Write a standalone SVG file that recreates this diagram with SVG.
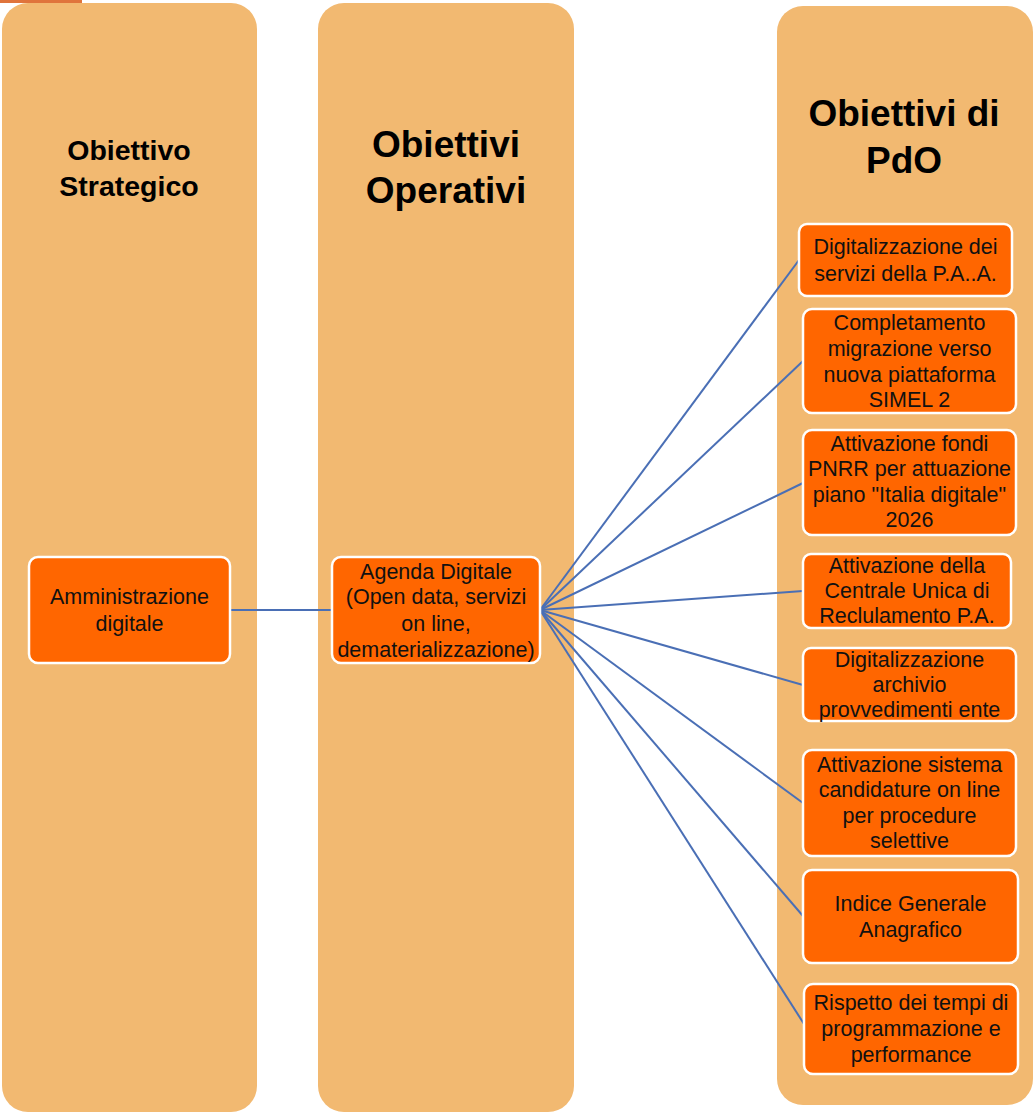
<svg xmlns="http://www.w3.org/2000/svg" width="1034" height="1114" viewBox="0 0 1034 1114">
<style>
.col{fill:#F2B971;}
.node{fill:#FF6600;stroke:#FFFFFF;stroke-width:2.5;}
.t{font-family:"Liberation Sans",Arial,sans-serif;font-size:21.5px;fill:#111;text-anchor:middle;}
.h{font-family:"Liberation Sans",Arial,sans-serif;font-weight:bold;fill:#000;text-anchor:middle;}
.c{stroke:#4A6FB5;stroke-width:2;fill:none;}
</style>
<rect x="0" y="0" width="1034" height="1114" fill="#FFFFFF"/>
<rect x="0" y="0" width="82" height="3" fill="#E0743C"/>
<g id="col1"><rect class="col" x="2" y="3" width="255" height="1109" rx="26"/>
<text class="h" font-size="28.5" x="129" y="160">Obiettivo</text>
<text class="h" font-size="28.5" x="129" y="196">Strategico</text></g>
<g id="col2"><rect class="col" x="318" y="3" width="256" height="1109" rx="26"/>
<text class="h" font-size="37" x="446" y="157">Obiettivi</text>
<text class="h" font-size="37" x="446" y="203">Operativi</text></g>
<g id="col3"><rect class="col" x="777" y="6" width="256" height="1099" rx="26"/>
<text class="h" font-size="37" x="904" y="126">Obiettivi di</text>
<text class="h" font-size="37" x="904" y="173">PdO</text></g>
<g id="connectors">
<line class="c" x1="230" y1="610" x2="332" y2="610"/>
<line class="c" x1="540" y1="610" x2="799" y2="260"/>
<line class="c" x1="540" y1="610" x2="803" y2="361"/>
<line class="c" x1="540" y1="610" x2="803" y2="483"/>
<line class="c" x1="540" y1="610" x2="803" y2="591"/>
<line class="c" x1="540" y1="610" x2="803" y2="685"/>
<line class="c" x1="540" y1="610" x2="803" y2="803"/>
<line class="c" x1="540" y1="610" x2="803" y2="916"/>
<line class="c" x1="540" y1="610" x2="804" y2="1024"/>
</g>
<g id="n-amm"><rect class="node" x="29" y="557" width="201" height="106" rx="9"/>
<text class="t" x="129.5" y="604">Amministrazione</text><text class="t" x="129.5" y="631">digitale</text></g>
<g id="n-agenda"><rect class="node" x="332" y="557" width="208" height="106" rx="9"/>
<text class="t" x="436" y="579">Agenda Digitale</text><text class="t" x="436" y="604">(Open data, servizi</text><text class="t" x="436" y="631">on line,</text><text class="t" x="436" y="657">dematerializzazione)</text></g>
<g id="n-r1"><rect class="node" x="799" y="224" width="213" height="72" rx="8"/>
<text class="t" x="905.5" y="254">Digitalizzazione dei</text><text class="t" x="905.5" y="281">servizi della P.A..A.</text></g>
<g id="n-r2"><rect class="node" x="803" y="309" width="213" height="104" rx="9"/>
<text class="t" x="909.5" y="330">Completamento</text><text class="t" x="909.5" y="356">migrazione verso</text><text class="t" x="909.5" y="382">nuova piattaforma</text><text class="t" x="909.5" y="407">SIMEL 2</text></g>
<g id="n-r3"><rect class="node" x="803" y="430" width="213" height="105" rx="9"/>
<text class="t" x="909.5" y="451">Attivazione fondi</text><text class="t" x="909.5" y="476">PNRR per attuazione</text><text class="t" x="909.5" y="502">piano "Italia digitale"</text><text class="t" x="909.5" y="527">2026</text></g>
<g id="n-r4"><rect class="node" x="803" y="554" width="208" height="74" rx="8"/>
<text class="t" x="907" y="573">Attivazione della</text><text class="t" x="907" y="598">Centrale Unica di</text><text class="t" x="907" y="623">Reclulamento P.A.</text></g>
<g id="n-r5"><rect class="node" x="803" y="648" width="213" height="73" rx="8"/>
<text class="t" x="909.5" y="667">Digitalizzazione</text><text class="t" x="909.5" y="692">archivio</text><text class="t" x="909.5" y="717">provvedimenti ente</text></g>
<g id="n-r6"><rect class="node" x="803" y="750" width="213" height="106" rx="9"/>
<text class="t" x="909.5" y="772">Attivazione sistema</text><text class="t" x="909.5" y="797">candidature on line</text><text class="t" x="909.5" y="823">per procedure</text><text class="t" x="909.5" y="848">selettive</text></g>
<g id="n-r7"><rect class="node" x="803" y="870" width="215" height="93" rx="9"/>
<text class="t" x="910.5" y="911">Indice Generale</text><text class="t" x="910.5" y="937">Anagrafico</text></g>
<g id="n-r8"><rect class="node" x="804" y="984" width="214" height="90" rx="9"/>
<text class="t" x="911" y="1010">Rispetto dei tempi di</text><text class="t" x="911" y="1036">programmazione e</text><text class="t" x="911" y="1062">performance</text></g>
</svg>
